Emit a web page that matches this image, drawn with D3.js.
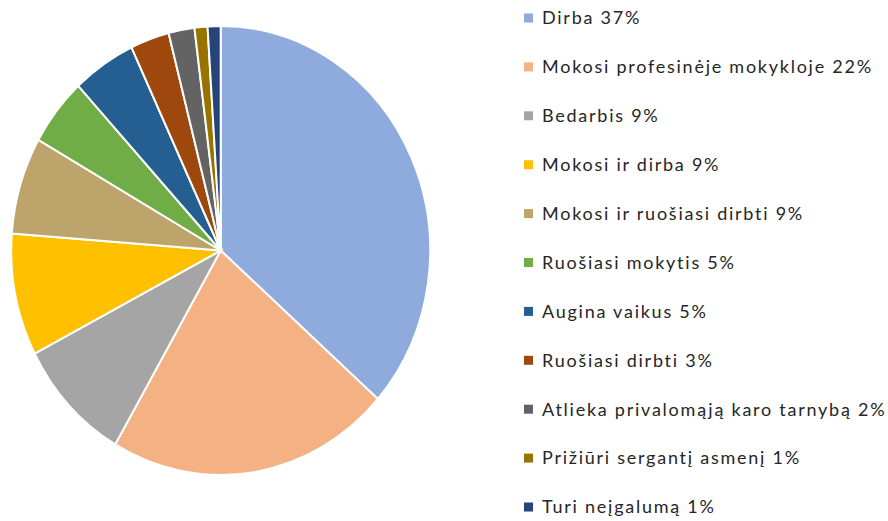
<!DOCTYPE html>
<html>
<head>
<meta charset="utf-8">
<script src="https://cdn.jsdelivr.net/npm/d3@7"></script>
<style>
  body { margin: 0; background: #fff; }
  svg text { font-family: Lato, "Open Sans", sans-serif; }
</style>
</head>
<body>
<svg id="chart" width="888" height="521"></svg>
<script>
// categories, shares, legend labels
const categories = ["Dirba", "Mokosi profesinėje mokykloje", "Bedarbis", "Mokosi ir dirba",
  "Mokosi ir ruošiasi dirbti", "Ruošiasi mokytis", "Augina vaikus", "Ruošiasi dirbti",
  "Atlieka privalomąją karo tarnybą", "Prižiūri sergantį asmenį", "Turi neįgalumą"];
const shares = [36.5, 21.9, 9.0, 8.8, 7.0, 4.9, 4.9, 3.0, 2.0, 1.0, 1.0];
const labels = ["Dirba 37%", "Mokosi profesinėje mokykloje 22%", "Bedarbis 9%", "Mokosi ir dirba 9%",
  "Mokosi ir ruošiasi dirbti 9%", "Ruošiasi mokytis 5%", "Augina vaikus 5%", "Ruošiasi dirbti 3%",
  "Atlieka privalomąją karo tarnybą 2%", "Prižiūri sergantį asmenį 1%", "Turi neįgalumą 1%"];
const colors = ["#8faadc", "#f4b183", "#a5a5a5", "#ffc000", "#bca46b", "#70ad47",
  "#255e91", "#9e480e", "#636363", "#997300", "#264478"];

const svg = d3.select("#chart");

let data = categories.map((c, i) => ({name: c, value: shares[i], label: labels[i]}));

let color = d3.scaleOrdinal().domain(categories).range(colors);

let pie = d3.pie().sort(null).value(d => d.value);
let rx = 209.5, ry = 224.5;
let arc = d3.arc().innerRadius(0).outerRadius(rx);

// the source pie is slightly stretched vertically
let pieG = svg.append("g")
    .attr("transform", "translate(220.7,250.5) scale(1," + (ry / rx) + ")");

pieG.selectAll(".slice")
    .data(pie(data))
    .enter().append("path")
    .attr("class", "slice")
    .attr("d", arc)
    .style("fill", d => color(d.data.name))
    .style("stroke", "#fff")
    .style("stroke-width", 2)
    .attr("vector-effect", "non-scaling-stroke");

// legend
let legendY = d3.scalePoint().domain(categories).range([18, 507]);

let item = svg.append("g").selectAll(".legend")
    .data(data)
    .enter().append("g")
    .attr("class", "legend")
    .attr("transform", d => "translate(524," + legendY(d.name) + ")");

item.append("rect")
    .attr("x", 0)
    .attr("y", -4.5)
    .attr("width", 9)
    .attr("height", 9)
    .style("fill", d => color(d.name));

item.append("text")
    .attr("x", 18)
    .attr("dy", "0.35em")
    .style("font-size", "18px")
    .style("letter-spacing", "1.75px")
    .style("fill", "#262626")
    .text(d => d.label);
</script>
</body>
</html>
